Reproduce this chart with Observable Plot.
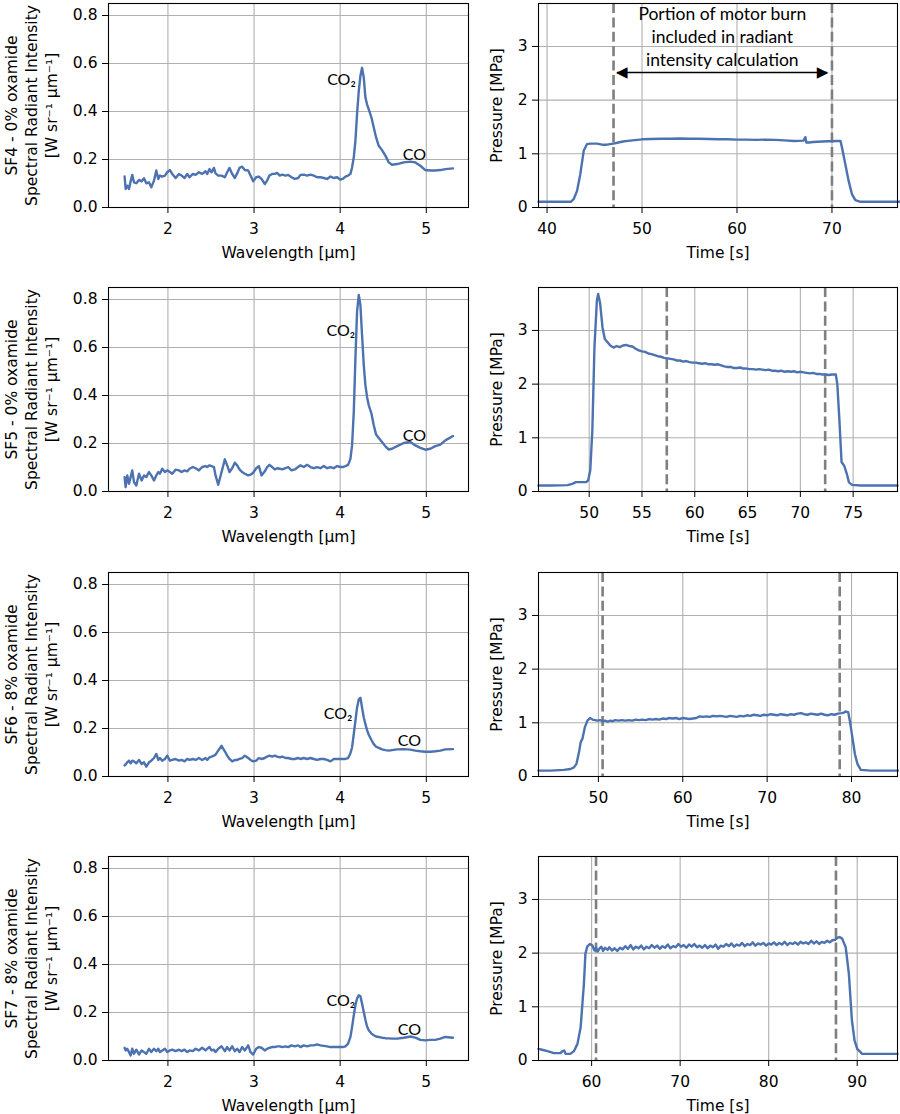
<!DOCTYPE html>
<html><head><meta charset="utf-8">
<script src="https://cdn.jsdelivr.net/npm/d3@7"></script>
<script src="https://cdn.jsdelivr.net/npm/@observablehq/plot@0.6"></script>
<style>
body{margin:0;background:#fff;}
#fig{position:relative;width:900px;height:1114px;overflow:hidden;background:#fff;}
#fig svg{position:absolute;}
</style></head><body><div id="fig"></div>
<script>
// ---------- data ----------
const runLabels = ["SF4 - 0% oxamide", "SF5 - 0% oxamide", "SF6 - 8% oxamide", "SF7 - 8% oxamide"];
const wavelengthTicks = [2, 3, 4, 5];
const intensityTicks = [0, 0.2, 0.4, 0.6, 0.8];
const pressureTicks = [0, 1, 2, 3];

const wavelength = [1.497,1.509,1.528,1.548,1.567,1.586,1.606,1.633,1.664,1.695,1.722,1.749,1.780,1.807,1.838,1.865,1.888,1.907,1.934,1.965,1.992,2.023,2.050,2.089,2.128,2.159,2.193,2.224,2.251,2.290,2.321,2.360,2.398,2.437,2.456,2.483,2.507,2.534,2.553,2.584,2.623,2.661,2.688,2.715,2.746,2.777,2.804,2.831,2.862,2.893,2.932,2.959,2.990,3.025,3.056,3.087,3.125,3.152,3.179,3.210,3.241,3.268,3.299,3.326,3.365,3.396,3.435,3.473,3.512,3.539,3.578,3.616,3.655,3.694,3.732,3.771,3.810,3.848,3.887,3.926,3.964,4.003,4.030,4.061,4.092,4.119,4.138,4.158,4.177,4.196,4.216,4.235,4.254,4.274,4.293,4.312,4.332,4.363,4.390,4.417,4.448,4.486,4.525,4.564,4.602,4.661,4.738,4.815,4.873,4.931,4.989,5.047,5.105,5.163,5.221,5.310];

const intensitySF4 = [.129,.077,.091,.077,.109,.136,.105,.101,.115,.109,.122,.101,.105,.084,.112,.154,.119,.133,.129,.133,.147,.156,.140,.123,.140,.133,.123,.140,.126,.140,.136,.147,.140,.151,.140,.160,.147,.165,.142,.133,.133,.126,.147,.165,.140,.123,.142,.165,.170,.156,.154,.133,.109,.126,.129,.119,.098,.112,.133,.140,.140,.144,.133,.137,.133,.136,.126,.119,.123,.136,.137,.133,.137,.133,.126,.126,.123,.119,.129,.123,.126,.116,.119,.129,.133,.140,.167,.209,.278,.389,.486,.548,.582,.541,.458,.430,.409,.375,.333,.292,.257,.239,.216,.188,.178,.181,.188,.191,.188,.174,.156,.154,.154,.156,.160,.163];
const intensitySF5 = [.060,.018,.067,.032,.060,.088,.039,.025,.074,.046,.067,.060,.081,.067,.046,.067,.081,.074,.095,.081,.088,.081,.074,.091,.088,.081,.088,.084,.095,.102,.097,.088,.102,.106,.102,.109,.106,.102,.067,.028,.081,.134,.109,.081,.097,.120,.109,.092,.081,.074,.067,.070,.078,.097,.106,.067,.084,.102,.111,.102,.092,.097,.095,.092,.097,.102,.088,.092,.102,.109,.102,.111,.102,.097,.102,.097,.106,.097,.102,.097,.106,.102,.102,.106,.111,.136,.192,.331,.554,.749,.819,.777,.652,.526,.443,.394,.359,.325,.276,.237,.223,.206,.188,.175,.178,.189,.202,.206,.192,.182,.174,.178,.189,.195,.213,.231];
const intensitySF6 = [.046,.050,.059,.066,.055,.066,.063,.055,.069,.052,.059,.041,.059,.066,.077,.094,.069,.077,.066,.073,.087,.066,.069,.073,.066,.069,.063,.073,.069,.073,.069,.077,.069,.077,.069,.080,.083,.087,.091,.108,.128,.105,.087,.073,.063,.069,.069,.073,.077,.087,.077,.069,.063,.066,.077,.073,.077,.083,.087,.083,.087,.083,.080,.083,.077,.077,.073,.073,.077,.073,.077,.073,.077,.073,.069,.073,.073,.069,.063,.073,.073,.073,.073,.073,.077,.097,.121,.177,.232,.287,.321,.328,.287,.246,.218,.193,.174,.152,.135,.124,.119,.113,.110,.108,.110,.113,.114,.112,.108,.105,.103,.103,.105,.108,.113,.114];
const intensitySF7 = [.053,.042,.049,.035,.021,.049,.028,.045,.025,.042,.035,.028,.049,.035,.049,.039,.049,.035,.042,.049,.035,.042,.045,.039,.045,.039,.045,.035,.042,.039,.049,.042,.053,.042,.049,.056,.042,.045,.035,.049,.059,.039,.056,.042,.059,.039,.049,.035,.056,.042,.063,.035,.025,.049,.056,.053,.042,.049,.053,.056,.056,.059,.059,.056,.059,.056,.063,.059,.063,.056,.063,.059,.063,.063,.067,.063,.061,.059,.056,.056,.056,.056,.056,.059,.070,.098,.139,.188,.230,.258,.272,.268,.237,.202,.170,.142,.126,.112,.105,.100,.098,.095,.093,.092,.091,.091,.095,.100,.095,.086,.084,.086,.086,.091,.098,.095];

const timeSF4 = [39.1,40.35,42.5,42.8,43.16,43.5,43.86,44.2,44.56,45.26,45.8,46.3,47.0,47.5,48.0,48.5,49.0,49.5,50.0,51,52,53,54,55,56,57,58,59,60,61,62,63,64,65,66,67,67.2,67.3,67.6,68,68.5,69,69.5,70,70.5,70.9,71.05,71.4,71.75,72.1,72.46,73.0,77.2];
const pressureSF4 = [0.106,0.106,0.106,0.155,0.31,0.62,1.056,1.18,1.19,1.19,1.17,1.17,1.19,1.21,1.23,1.24,1.25,1.26,1.27,1.275,1.28,1.28,1.285,1.28,1.28,1.275,1.27,1.27,1.265,1.265,1.26,1.265,1.26,1.25,1.24,1.245,1.31,1.21,1.21,1.22,1.225,1.23,1.235,1.235,1.24,1.24,1.12,0.81,0.50,0.25,0.137,0.106,0.106];

const timeSF5 = [45.2,46.37,47.95,48.4,48.74,49.2,49.7,49.9,50.1,50.3,50.5,50.73,50.85,51.04,51.26,51.48,51.74,52.0,52.3,52.6,52.9,53.2,53.5,53.8,54.1,54.4,54.7,55.0,55.3,55.6,55.9,56.2,56.5,56.8,57.1,57.4,57.7,58.0,58.3,58.6,58.9,59.2,59.5,59.8,60.1,60.4,60.7,61.0,61.3,61.6,61.9,62.2,62.5,62.8,63.1,63.4,63.7,64.0,64.3,64.6,64.9,65.2,65.5,65.8,66.1,66.4,66.7,67.0,67.3,67.6,67.9,68.2,68.5,68.8,69.1,69.4,69.7,70.0,70.3,70.6,70.9,71.2,71.5,71.8,72.1,72.4,72.7,73.0,73.36,73.5,73.7,73.9,74.15,74.4,74.6,74.9,75.7,79.2];
const pressureSF5 = [0.112,0.112,0.118,0.143,0.174,0.174,0.174,0.205,0.39,1.14,2.69,3.56,3.68,3.5,3.06,2.84,2.78,2.72,2.68,2.71,2.69,2.72,2.73,2.71,2.70,2.66,2.63,2.61,2.60,2.57,2.56,2.54,2.52,2.51,2.49,2.48,2.47,2.46,2.44,2.44,2.42,2.43,2.41,2.40,2.40,2.39,2.38,2.39,2.37,2.37,2.36,2.37,2.35,2.33,2.32,2.32,2.30,2.30,2.31,2.29,2.29,2.28,2.28,2.27,2.28,2.27,2.26,2.27,2.25,2.25,2.24,2.25,2.23,2.24,2.23,2.24,2.22,2.23,2.22,2.21,2.20,2.21,2.19,2.19,2.18,2.18,2.17,2.18,2.18,2.0,1.32,0.55,0.48,0.33,0.17,0.124,0.112,0.112];

const timeSF6 = [42.9,44.35,45.9,46.7,47.1,47.4,47.7,47.9,48.1,48.4,48.7,49.0,49.3,49.6,49.9,50.2,50.5,50.8,51.1,51.4,51.7,52.0,52.4,52.8,53.2,53.6,54.0,54.4,54.8,55.2,55.6,56.0,56.4,56.8,57.2,57.6,58.0,58.4,58.8,59.2,59.6,60.0,60.4,60.8,61.2,61.6,62.0,62.4,62.8,63.2,63.6,64.0,64.4,64.8,65.2,65.6,66.0,66.4,66.8,67.2,67.6,68.0,68.4,68.8,69.2,69.6,70.0,70.4,70.8,71.2,71.6,72.0,72.4,72.8,73.2,73.6,74.0,74.4,74.8,75.2,75.6,76.0,76.4,76.8,77.2,77.6,78.0,78.4,78.8,79.1,79.3,79.6,79.8,80.1,80.4,80.7,81.1,82.3,85.5];
const pressureSF6 = [0.11,0.11,0.124,0.14,0.17,0.236,0.45,0.64,0.70,0.92,1.04,1.09,1.06,1.05,1.04,1.05,1.03,1.04,1.02,1.04,1.03,1.05,1.04,1.05,1.04,1.05,1.04,1.06,1.05,1.06,1.05,1.07,1.06,1.07,1.06,1.08,1.07,1.09,1.08,1.09,1.07,1.09,1.08,1.07,1.08,1.09,1.12,1.11,1.12,1.11,1.13,1.12,1.13,1.12,1.11,1.13,1.12,1.11,1.13,1.12,1.14,1.13,1.15,1.14,1.13,1.15,1.14,1.16,1.15,1.14,1.16,1.15,1.14,1.16,1.15,1.17,1.18,1.16,1.15,1.17,1.16,1.15,1.17,1.15,1.14,1.16,1.15,1.17,1.18,1.19,1.21,1.20,1.04,0.73,0.42,0.235,0.124,0.11,0.11];

const timeSF7 = [54.0,54.4,55.0,55.75,56.5,56.7,56.9,57.06,57.6,58.0,58.4,58.76,59.13,59.3,59.5,59.8,60.1,60.3,60.5,60.7,60.9,61.1,61.3,61.5,61.8,62.0,62.3,62.6,62.9,63.2,63.5,63.8,64.1,64.4,64.7,65.0,65.3,65.6,65.9,66.2,66.5,66.8,67.1,67.4,67.7,68.0,68.3,68.6,68.9,69.2,69.5,69.8,70.1,70.4,70.7,71.0,71.3,71.6,71.9,72.2,72.5,72.8,73.1,73.4,73.7,74.0,74.3,74.6,74.9,75.2,75.5,75.8,76.1,76.4,76.7,77.0,77.3,77.6,77.9,78.2,78.5,78.8,79.1,79.4,79.7,80.0,80.3,80.6,80.9,81.2,81.5,81.8,82.1,82.4,82.7,83.0,83.3,83.6,83.9,84.2,84.5,84.8,85.1,85.4,85.7,86.0,86.3,86.6,86.9,87.2,87.5,87.8,88.0,88.3,88.7,89.06,89.4,89.7,90.0,90.56,94.55];
const pressureSF7 = [0.217,0.2,0.174,0.137,0.137,0.174,0.186,0.124,0.124,0.174,0.31,0.62,1.43,1.99,2.12,2.17,2.14,2.05,2.10,2.03,2.09,2.12,2.04,2.10,2.06,2.11,2.05,2.09,2.04,2.10,2.07,2.13,2.08,2.15,2.07,2.12,2.09,2.14,2.07,2.12,2.09,2.15,2.10,2.14,2.08,2.13,2.10,2.16,2.09,2.13,2.11,2.17,2.12,2.15,2.10,2.16,2.12,2.17,2.11,2.14,2.10,2.15,2.09,2.14,2.11,2.16,2.08,2.14,2.12,2.17,2.13,2.18,2.12,2.16,2.14,2.19,2.13,2.17,2.15,2.20,2.14,2.18,2.16,2.19,2.14,2.18,2.16,2.20,2.15,2.19,2.16,2.21,2.15,2.19,2.17,2.20,2.16,2.21,2.18,2.20,2.17,2.23,2.18,2.22,2.17,2.21,2.19,2.23,2.20,2.24,2.25,2.29,2.30,2.27,2.11,1.61,0.75,0.37,0.217,0.124,0.124];

// burn window (dashed lines) per run, seconds
const burnStart = [47.0, 57.35, 50.5, 60.5];
const burnEnd = [70.0, 72.35, 78.6, 87.6];
const timeTicks = [[40,50,60,70],[50,55,60,65,70,75],[50,60,70,80],[60,70,80,90]];
const timeDomains = [[39.1,76.9],[45.2,79.2],[42.9,85.45],[54.0,94.55]];

// annotation anchors (data coordinates)
const co2Anchor = [[4.015,0.531],[4.007,0.671],[3.976,0.261],[4.007,0.247]];
const coAnchor = [[4.862,0.22],[4.862,0.23],[4.804,0.15],[4.804,0.129]];
const burnNote = {x: 58.45, y: 3.2, x1: 47.37, x2: 69.5, yArrow: 2.515,
  text: "Portion of motor burn\nincluded in radiant\nintensity calculation"};

// ---------- drawing ----------
const spectra = [intensitySF4, intensitySF5, intensitySF6, intensitySF7];
const times = [timeSF4, timeSF5, timeSF6, timeSF7];
const pressures = [pressureSF4, pressureSF5, pressureSF6, pressureSF7];

const fig = document.getElementById("fig");
const FONT = "'DejaVu Sans', sans-serif";
const NOTE_FONT = "Lato, 'Open Sans', sans-serif";
const BLUE = "#4c72b0", GRID = "#b0b0b0", DASH = "#7f7f7f";
const panelTops = [3, 287, 572, 856];
const PANEL_H = 204;
const LW = 2.4;

function style() {
  return {fontFamily: FONT, fontSize: "15.5px", color: "black", background: "transparent", overflow: "visible"};
}
function place(svg, left, top) {
  svg.style.left = left + "px";
  svg.style.top = top + "px";
  fig.appendChild(svg);
}

for (let i = 0; i < 4; i++) {
  const top = panelTops[i] - 3;
  const h = Math.min(264, 1114 - top);
  const mb = h - 3 - PANEL_H;

  // ---- spectrum panel ----
  const spec = wavelength.map((w, j) => ({w, v: spectra[i][j]}));
  const left = Plot.plot({
    width: 470, height: h, marginLeft: 108, marginRight: 2, marginTop: 3, marginBottom: mb,
    style: style(),
    x: {domain: [1.31, 5.49], ticks: wavelengthTicks, tickSize: 6, tickPadding: 9, tickFormat: d => String(d), label: null},
    y: {domain: [0, 0.85], ticks: intensityTicks, tickSize: 6, tickPadding: 5, tickFormat: d => d.toFixed(1), label: null},
    marks: [
      Plot.ruleX(wavelengthTicks, {stroke: GRID, strokeWidth: 1.1}),
      Plot.ruleY(intensityTicks.slice(1), {stroke: GRID, strokeWidth: 1.1}),
      Plot.line(spec, {x: "w", y: "v", stroke: BLUE, strokeWidth: LW}),
      Plot.text([co2Anchor[i]], {x: d => d[0], y: d => d[1], text: () => "CO₂", fontFamily: NOTE_FONT, fontSize: 16}),
      Plot.text([coAnchor[i]], {x: d => d[0], y: d => d[1], text: () => "CO", fontFamily: NOTE_FONT, fontSize: 16}),
      Plot.frame({stroke: "black", strokeWidth: 1.1}),
      Plot.text(["Wavelength [µm]"], {text: d => d, frameAnchor: "bottom", dy: 50}),
      Plot.text([runLabels[i] + "\nSpectral Radiant Intensity\n[W sr⁻¹ µm⁻¹]"], {text: d => d, frameAnchor: "left", textAnchor: "middle", dx: -78, rotate: -90, lineHeight: 1.29})
    ]
  });
  place(left, 0, top);

  // ---- pressure panel ----
  const pres = times[i].map((t, j) => ({t, p: pressures[i][j]}));
  const marks = [
    Plot.ruleX(timeTicks[i], {stroke: GRID, strokeWidth: 1.1}),
    Plot.ruleY(pressureTicks.slice(1), {stroke: GRID, strokeWidth: 1.1}),
    Plot.ruleX([burnStart[i], burnEnd[i]], {stroke: DASH, strokeWidth: 2.6, strokeDasharray: "10,4.4"}),
    Plot.line(pres, {x: "t", y: "p", stroke: BLUE, strokeWidth: LW}),
    Plot.frame({stroke: "black", strokeWidth: 1.1}),
    Plot.text(["Time [s]"], {text: d => d, frameAnchor: "bottom", dy: 50}),
    Plot.text(["Pressure [MPa]"], {text: d => d, frameAnchor: "left", textAnchor: "middle", dx: -41.3, rotate: -90})
  ];
  if (i === 0) {
    marks.push(
      Plot.text([burnNote], {x: "x", y: "y", text: "text", fontFamily: NOTE_FONT, fontSize: 17.5, lineHeight: 1.29}),
      Plot.link([burnNote], {x1: "x1", x2: "x2", y1: "yArrow", y2: "yArrow", stroke: "black", strokeWidth: 1.3}),
      Plot.text([burnNote], {x: "x1", y: "yArrow", text: () => "◀", textAnchor: "start", fontSize: 15, dx: -1}),
      Plot.text([burnNote], {x: "x2", y: "yArrow", text: () => "▶", textAnchor: "end", fontSize: 15, dx: 1})
    );
  }
  const right = Plot.plot({
    width: 450, height: h, marginLeft: 88, marginRight: 3, marginTop: 3, marginBottom: mb,
    style: style(),
    x: {domain: timeDomains[i], ticks: timeTicks[i], tickSize: 6, tickPadding: 9, tickFormat: d => String(d), label: null},
    y: {domain: [0, 3.8], ticks: pressureTicks, tickSize: 6, tickPadding: 5, tickFormat: d => String(d), label: null},
    marks
  });
  place(right, 450, top);
}
</script></body></html>
